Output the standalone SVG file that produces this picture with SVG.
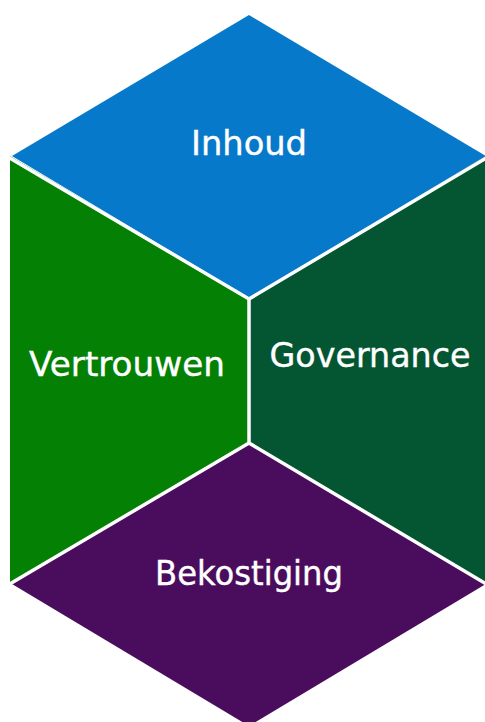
<svg xmlns="http://www.w3.org/2000/svg" width="485" height="722" viewBox="0 0 485 722">
<style>
.lbl{font-family:"DejaVu Sans","Verdana",sans-serif;font-size:34px;fill:#ffffff;stroke:#ffffff;stroke-width:0.4;text-anchor:middle}
.sep{stroke:#ffffff;stroke-width:3.5;fill:none;stroke-linejoin:miter}
</style>
<rect width="485" height="722" fill="#ffffff"/>
<g id="vertrouwen">
<polygon points="10,156 249,298 249,442 10,584" fill="#048004"/>
<text class="lbl" x="127" y="376" textLength="196" lengthAdjust="spacingAndGlyphs">Vertrouwen</text>
</g>
<g id="governance">
<polygon points="249,298 486,156 486,584 249,442" fill="#035631"/>
<text class="lbl" x="370" y="367" textLength="201" lengthAdjust="spacingAndGlyphs">Governance</text>
</g>
<g id="inhoud">
<polygon points="249,15 486,156 249,298 12,156" fill="#0679CA"/>
<text class="lbl" x="249" y="155" textLength="116" lengthAdjust="spacingAndGlyphs">Inhoud</text>
</g>
<g id="bekostiging">
<polygon points="249,442 486,584 249,726 12,584" fill="#4A0D5D"/>
<text class="lbl" x="249" y="585" textLength="188" lengthAdjust="spacingAndGlyphs">Bekostiging</text>
</g>
<g id="connectors">
<polyline class="sep" points="8,157 249,299 488,157"/>
<line class="sep" x1="249" y1="299" x2="249" y2="442"/>
<polyline class="sep" points="8,585 249,443 488,585"/>
</g>
</svg>
